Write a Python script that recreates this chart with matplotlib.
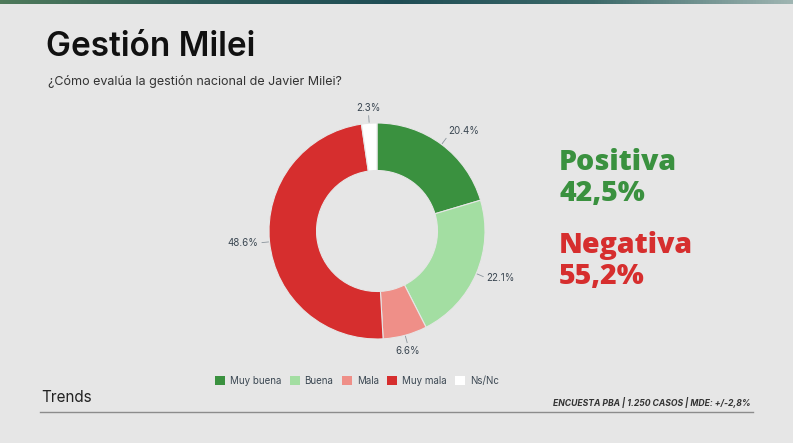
import numpy as np
import matplotlib
matplotlib.use("Agg")
import matplotlib.pyplot as plt
from matplotlib.patches import Rectangle

# Data
categories = ["Muy buena", "Buena", "Mala", "Muy mala", "Ns/Nc"]
values = [20.4, 22.1, 6.6, 48.6, 2.3]
slice_colors = ["#3a913f", "#a3dea2", "#ef8f88", "#d62e2e", "#ffffff"]
summary_labels = ["Positiva", "Negativa"]
summary_values = ["42,5%", "55,2%"]
summary_colors = ["#3a913f", "#d62e2e"]

BG = "#e6e6e6"
LABEL_COL = "#3b4752"

fig = plt.figure(figsize=(7.93, 4.43), dpi=100)
fig.patch.set_facecolor(BG)

# top gradient strip
strip = fig.add_axes([0, 1 - 4 / 443, 1, 4 / 443])
grad = np.linspace(0, 1, 256)
cmap = matplotlib.colors.LinearSegmentedColormap.from_list(
    "strip", ["#4f7a5a", "#2f5c5a", "#1f4d55", "#3d6a6a", "#9fb5b2"])
strip.imshow(grad[None, :], aspect="auto", cmap=cmap, extent=[0, 1, 0, 1])
strip.axis("off")

# titles
fig.text(46 / 793, 1 - 47 / 443, "Gestión Milei", fontsize=24, fontweight="semibold",
         family="Inter", color="#111111", va="center")
fig.text(48 / 793, 1 - 81 / 443, "¿Cómo evalúa la gestión nacional de Javier Milei?",
         fontsize=9, family="Inter", color="#333333", va="center")

# donut
cx, cy, r = 377, 231, 108
ax = fig.add_axes([(cx - r) / 793, (443 - cy - r) / 443, 2 * r / 793, 2 * r / 443])
wedges, _ = ax.pie(values, colors=slice_colors, startangle=90, counterclock=False,
                   radius=1, wedgeprops=dict(width=0.44, edgecolor=BG, linewidth=0.8))
ax.set_xlim(-1, 1)
ax.set_ylim(-1, 1)
ax.set_aspect("equal")

for w, v in zip(wedges, values):
    ang = np.deg2rad((w.theta1 + w.theta2) / 2)
    c, s = np.cos(ang), np.sin(ang)
    ax.plot([1.01 * c, 1.07 * c], [1.01 * s, 1.07 * s], color="#8a949c", lw=0.6, clip_on=False)
    ha = "left" if c > 0.35 else ("right" if c < -0.35 else "center")
    va = "center" if abs(s) < 0.7 else ("bottom" if s > 0 else "top")
    ax.text(1.1 * c, 1.1 * s, f"{v:.1f}%", ha=ha, va=va, fontsize=7,
            color=LABEL_COL, family="Inter", clip_on=False)

# summary numbers on the right
ys = [(162, 194), (245, 277)]
for lab, val, col, (y1, y2) in zip(summary_labels, summary_values, summary_colors, ys):
    fig.text(559 / 793, 1 - y1 / 443, lab, fontsize=20.5, fontweight="heavy",
             family="Open Sans", color=col, va="center")
    fig.text(559 / 793, 1 - y2 / 443, val, fontsize=20.5, fontweight="heavy",
             family="Open Sans", color=col, va="center")

# legend
leg = fig.legend([Rectangle((0, 0), 1, 1, facecolor=c, edgecolor="none") for c in slice_colors],
                 categories, loc="center", bbox_to_anchor=(357 / 793, 1 - 381 / 443),
                 ncol=5, frameon=False, handlelength=1.0, handleheight=1.0,
                 handletextpad=0.5, columnspacing=0.9,
                 prop=dict(family="Inter", size=7))
for t in leg.get_texts():
    t.set_color(LABEL_COL)

# footer
fig.add_artist(plt.Line2D([40 / 793, 753 / 793], [1 - 412 / 443, 1 - 412 / 443],
                          color="#8c8c8c", lw=1))
fig.text(41 / 793, 1 - 398 / 443, "Trends", fontsize=11, family="Inter",
         color="#222222", va="center")
fig.text(751 / 793, 1 - 403 / 443, "ENCUESTA PBA | 1.250 CASOS | MDE: +/-2,8%",
         fontsize=6.2, family="Inter", style="italic", fontweight="bold",
         color="#333333", ha="right", va="center")

fig.savefig("out.png", dpi=100, facecolor=BG)
